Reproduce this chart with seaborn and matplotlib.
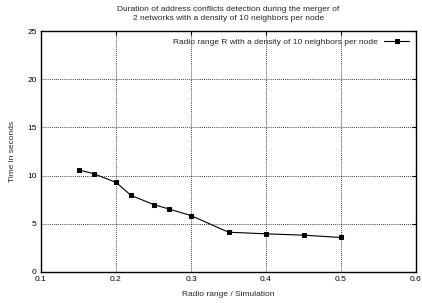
import pandas as pd
import matplotlib
matplotlib.use('Agg')
import matplotlib.pyplot as plt
import seaborn as sns

# data
radio_range = [0.15, 0.17, 0.20, 0.22, 0.25, 0.27, 0.30, 0.35, 0.40, 0.45, 0.50]
time_sec = [10.6, 10.2, 9.3, 7.95, 7.0, 6.55, 5.85, 4.13, 3.96, 3.82, 3.58]
series_label = 'Radio range R with a density of 10 neighbors per node'

x_ticks = [0.1, 0.2, 0.3, 0.4, 0.5, 0.6]
y_ticks = [0, 5, 10, 15, 20, 25]

df = pd.DataFrame({'range': radio_range, 'time': time_sec})

sns.set_style('white')
plt.rcParams['font.family'] = ['Liberation Sans', 'DejaVu Sans']

fig = plt.figure(figsize=(4.22, 3.03), dpi=100)
ax = fig.add_axes([41 / 422, 31 / 303, 375 / 422, 241 / 303])

sns.lineplot(data=df, x='range', y='time', ax=ax, color='black', lw=0.8,
             marker='s', markersize=2.8, markeredgecolor='black',
             label=series_label)

ax.set_xlim(0.1, 0.6)
ax.set_ylim(0, 25)
ax.set_xticks(x_ticks)
ax.set_xticklabels([f'{t:.1f}' for t in x_ticks])
ax.set_yticks(y_ticks)
ax.tick_params(direction='in', length=3, width=0.8, labelsize=6, top=True, right=True,
               colors='black', pad=3)

for s in ax.spines.values():
    s.set_linewidth(1.0)
    s.set_color('black')

ax.grid(True, linestyle=(0, (1, 1.5)), color='black', lw=0.6)
ax.set_axisbelow(True)

ax.set_title('Duration of address conflicts detection during the merger of\n'
             '2 networks with a density of 10 neighbors per node',
             fontsize=6, pad=8, linespacing=1.35)
ax.set_xlabel('Radio range / Simulation', fontsize=6, labelpad=6)
ax.set_ylabel('Time in seconds', fontsize=6, labelpad=8)

leg = ax.legend(loc='upper right', frameon=False, fontsize=6, markerfirst=False,
                handlelength=3, borderaxespad=0.4, handletextpad=0.8)

fig.savefig('out.png', dpi=100)
